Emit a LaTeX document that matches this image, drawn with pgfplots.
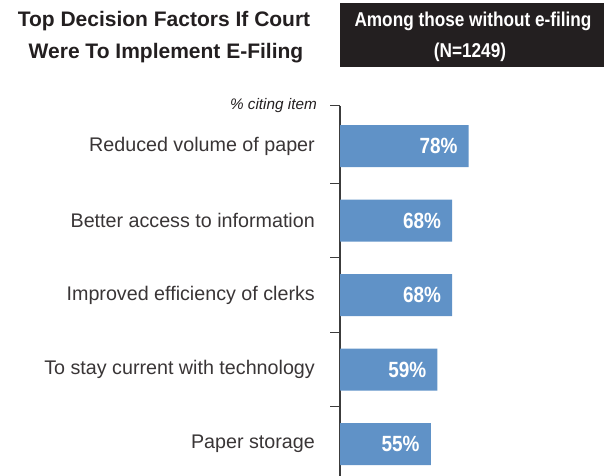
\documentclass[border=0pt]{standalone}
\usepackage{pgfplots}
\pgfplotsset{compat=1.18}
\usepackage{fontspec}
\setmainfont{Liberation Sans}
\newfontfamily\condfont{Liberation Sans}[FakeStretch=0.86]
\definecolor{barblue}{RGB}{96,146,199}
\definecolor{boxblack}{RGB}{35,31,32}
\definecolor{axgray}{RGB}{60,60,60}
\definecolor{txt}{RGB}{35,31,32}
\begin{document}
\begin{tikzpicture}[x=1pt,y=1pt]
\path[use as bounding box] (0,0) rectangle (604,475);
% title
\node[anchor=base, inner sep=0pt, font=\fontsize{21}{25}\selectfont\bfseries, text=txt] at (164,448.3) {Top Decision Factors If Court};
\node[anchor=base, inner sep=0pt, font=\fontsize{21}{25}\selectfont\bfseries, text=txt] at (166,416.5) {Were To Implement E-Filing};
% black box
\fill[boxblack] (340,472) rectangle (604,408);
\node[anchor=base, inner sep=0pt, font=\condfont\fontsize{20}{24}\selectfont\bfseries, text=white] at (473,448.3) {Among those without e-filing};
\node[anchor=base, inner sep=0pt, font=\condfont\fontsize{20}{24}\selectfont\bfseries, text=white] at (470,417.7) {(N=1249)};
% axis caption
\node[anchor=base east, inner sep=0pt, font=\fontsize{15.3}{18}\selectfont\itshape, text=txt] at (317,365.5) {\% citing item};
\begin{axis}[
  at={(340pt,369.2pt)}, anchor=north west,
  scale only axis, width=165pt, height=382.9pt,
  xmin=0, xmax=100, ymin=-0.54, ymax=4.6,
  y dir=reverse,
  hide x axis,
  axis y line*=left,
  y axis line style={axgray, line width=1.3pt},
  ytick={0,1,2,3,4},
  yticklabels={Reduced volume of paper, Better access to information, Improved efficiency of clerks, To stay current with technology, Paper storage},
  major tick length=0pt,
  minor ytick={-0.54,0.5,1.5,2.5,3.5,4.5},
  minor tick length=10pt,
  tick align=outside,
  ytick pos=left,
  minor tick style={axgray, line width=1.3pt},
  major tick style={draw=none},
  yticklabel style={font=\fontsize{19.7}{22}\selectfont, text=txt!90, inner sep=0pt, xshift=-25pt, anchor=east},
  clip=false,
]
\addplot[xbar, fill=barblue, draw=none, bar width=42pt,
  point meta=x,
  nodes near coords={\pgfmathprintnumber[assume math mode=true]{\pgfplotspointmeta}\%},
  every node near coord/.append style={anchor=east, xshift=-11pt, inner sep=0pt, font=\condfont\fontsize{22}{24}\selectfont\bfseries, text=white},
] coordinates {(78,0) (68,1) (68,2) (59,3) (55,4)};
\end{axis}
\end{tikzpicture}
\end{document}
